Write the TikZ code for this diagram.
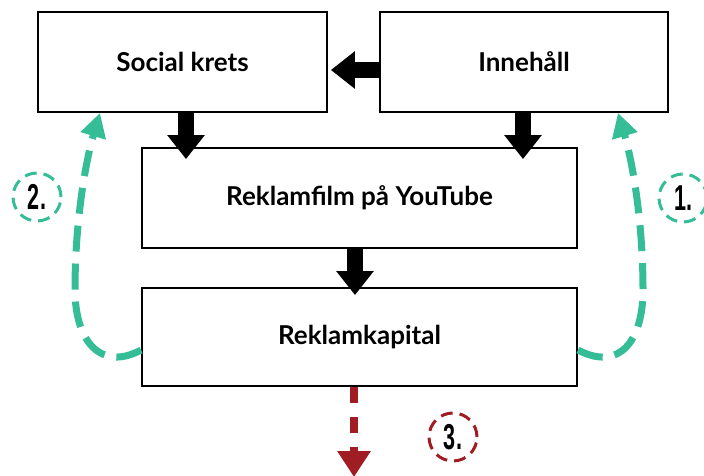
\documentclass[tikz,border=0pt]{standalone}
\usepackage{fontspec}
\setmainfont{Lato}
\newfontfamily\numfont{Liberation Sans}
\usetikzlibrary{arrows.meta,calc}
\definecolor{tealc}{HTML}{35BD97}
\definecolor{redc}{HTML}{A11D24}
\tikzset{
  box/.style={draw=black,line width=1.8pt,minimum width=#1,minimum height=100pt,inner sep=0pt,font=\bfseries\fontsize{26}{30}\selectfont},
  fat/.style={line width=16pt,-{Triangle[width=36pt,length=24pt]}},
  greendash/.style={draw=tealc,line width=7pt,dash pattern=on 26pt off 12pt,-{Triangle[width=25pt,length=24pt]}},
  numcirc/.style={circle,draw=#1,line width=3pt,dash pattern=on 12pt off 7pt,minimum size=48pt,inner sep=0pt,font=\numfont\bfseries\fontsize{36}{36}\selectfont},
}
\begin{document}
\begin{tikzpicture}[x=1pt,y=-1pt]
\useasboundingbox (0,0) rectangle (704,476);
\node[box=289pt] (soc) at (182.5,62) {Social krets};
\node[box=288pt] (inn) at (524,62) {Innehåll};
\node[box=435pt] (film) at (359.5,198) {Reklamfilm på YouTube};
\node[box=435pt,minimum height=98pt] (kap) at (359.5,337) {Reklamkapital};
% fat black arrows
\draw[fat] ($(inn.west)+(0,8)$) -- ($(soc.east)+(3,8)$);
\draw[fat] (soc.south -| 186,0) -- ($(film.north -| 186,0)+(0,12)$);
\draw[fat] (inn.south -| 523,0) -- ($(film.north -| 523,0)+(0,12)$);
\draw[fat] (film.south -| 355,0) -- ($(kap.north -| 355,0)+(0,8)$);
% red dashed arrow
\coordinate (rend) at (354,477);
\draw[redc,line width=8pt,dash pattern=on 16pt off 14pt,-{Triangle[width=32pt,length=26pt]}] (kap.south -| 354,0) -- (rend);
% green dashed curves
\draw[greendash] ($(kap.west)+(0,13)$) .. controls (100,372) and (75,340) .. (75,290) .. controls (75,220) and (86,160) .. (soc.south -| 100,0);
\draw[greendash] ($(kap.east)+(0,13)$) .. controls (620,372) and (643,340) .. (643,290) .. controls (643,220) and (632,160) .. (inn.south -| 618,0);
% numbered circles
\node[numcirc=tealc] (n2) at (37,197) {\scalebox{0.6}[1]{2.}};
\node[numcirc=tealc] (n1) at (683,198) {\scalebox{0.6}[1]{1.}};
\node[numcirc=redc] (n3) at (453,437) {\scalebox{0.6}[1]{3.}};
\end{tikzpicture}
\end{document}
